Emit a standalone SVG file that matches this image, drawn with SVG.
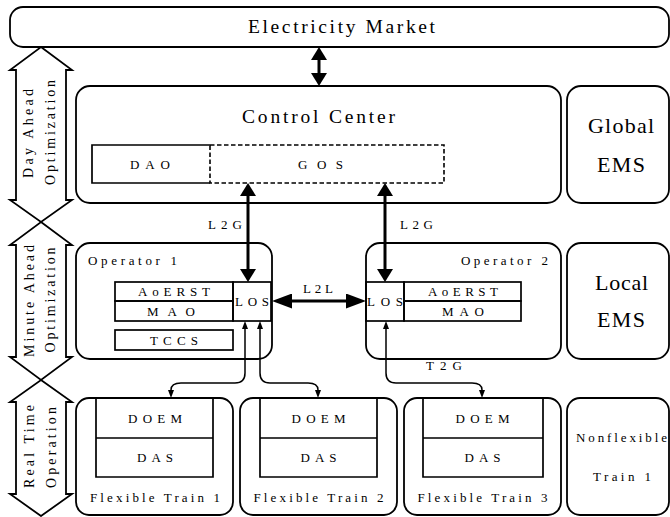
<svg xmlns="http://www.w3.org/2000/svg" width="670" height="517" viewBox="0 0 670 517">
<defs>
<style>
.box{fill:#fff;stroke:#000;stroke-width:1.8}
.ln{fill:none;stroke:#000;stroke-width:1.7}
.dash{fill:none;stroke:#000;stroke-width:1.6;stroke-dasharray:4.5 2.5}
.big{fill:#fff;stroke:#000;stroke-width:1.8;stroke-linejoin:miter}
.thick{fill:none;stroke:#000;stroke-width:3}
.thin{fill:none;stroke:#000;stroke-width:1.5}
text{font-family:"Liberation Serif","Times New Roman",serif;fill:#000}
.s{font-size:13px}
.m{font-size:14px}
.l{font-size:19.5px}
.xl{font-size:22px}
.c{text-anchor:middle}
</style>
<marker id="hT" markerUnits="userSpaceOnUse" viewBox="0 0 13 16" markerWidth="13" markerHeight="16" refX="0" refY="8" orient="auto-start-reverse"><path d="M0,0 L13,8 L0,16 Z" fill="#000"/></marker>
<marker id="hL" markerUnits="userSpaceOnUse" viewBox="0 0 20 15" markerWidth="20" markerHeight="15" refX="0" refY="7.5" orient="auto-start-reverse"><path d="M0,0 L20,7.5 L0,15 Z" fill="#000"/></marker>
<marker id="hs" markerUnits="userSpaceOnUse" viewBox="0 0 8 6" markerWidth="8" markerHeight="6" refX="0" refY="3" orient="auto-start-reverse"><path d="M0,0 L8,3 L0,6 Z" fill="#000"/></marker>
</defs>
<rect width="670" height="517" fill="#fff"/>

<g id="phase-arrows">
<polygon class="big" points="41,47 72,70 66,70 66,200 72,200 41,222 10,200 16,200 16,70 10,70"/>
<polygon class="big" points="41,222 72,245 66,245 66,357 72,357 41,380 10,357 16,357 16,245 10,245"/>
<polygon class="big" points="41,380 72,402 66,402 66,494 72,494 41,516 10,494 16,494 16,402 10,402"/>
<text class="m c" transform="translate(33,133.5) rotate(-90)" textLength="89" lengthAdjust="spacing">Day Ahead</text>
<text class="m c" transform="translate(55,132.5) rotate(-90)" textLength="105" lengthAdjust="spacing">Optimization</text>
<text class="m c" transform="translate(34,301) rotate(-90)" textLength="112" lengthAdjust="spacing">Minute Ahead</text>
<text class="m c" transform="translate(55,300) rotate(-90)" textLength="105" lengthAdjust="spacing">Optimization</text>
<text class="m c" transform="translate(34,446.5) rotate(-90)" textLength="83" lengthAdjust="spacing">Real Time</text>
<text class="m c" transform="translate(56,447.5) rotate(-90)" textLength="81" lengthAdjust="spacing">Operation</text>
</g>

<g id="market">
<rect class="box" x="10" y="7" width="659" height="40" rx="13"/>
<text class="l c" x="341.5" y="33" textLength="187" lengthAdjust="spacing">Electricity Market</text>
</g>

<g id="control-center">
<rect class="box" x="76" y="86" width="485" height="117" rx="14"/>
<text class="l c" x="318.5" y="123" textLength="153" lengthAdjust="spacing">Control Center</text>
<path class="ln" d="M210,145 H92 V183 H210"/>
<rect class="dash" x="210" y="145" width="234" height="38"/>
<text class="s c" x="150" y="169" textLength="40" lengthAdjust="spacing">DAO</text>
<text class="s c" x="320.5" y="169" textLength="45" lengthAdjust="spacing">GOS</text>
</g>

<g id="global-ems">
<rect class="box" x="567" y="86" width="102" height="117" rx="14"/>
<text class="xl c" x="621" y="133" textLength="66" lengthAdjust="spacing">Global</text>
<text class="xl c" x="621" y="172" textLength="48" lengthAdjust="spacing">EMS</text>
</g>

<g id="operator-1">
<rect class="box" x="76" y="243" width="196" height="116" rx="14"/>
<text class="s" x="88" y="265" textLength="89" lengthAdjust="spacing">Operator 1</text>
<rect class="ln" x="115" y="282" width="118" height="19"/>
<rect class="ln" x="115" y="301" width="118" height="20"/>
<rect class="ln" x="233" y="282" width="38" height="39"/>
<rect class="ln" x="115" y="330" width="118" height="20"/>
<text class="s c" x="174" y="296" textLength="72" lengthAdjust="spacing">AoERST</text>
<text class="s c" x="171" y="315.5" textLength="48" lengthAdjust="spacing">MAO</text>
<text class="s c" x="252" y="306" textLength="34" lengthAdjust="spacing">LOS</text>
<text class="s c" x="174" y="344.5" textLength="48" lengthAdjust="spacing">TCCS</text>
</g>

<g id="operator-2">
<rect class="box" x="366" y="243" width="195" height="116" rx="14"/>
<text class="s" x="461" y="265" textLength="87" lengthAdjust="spacing">Operator 2</text>
<rect class="ln" x="366" y="282" width="38" height="39"/>
<rect class="ln" x="404" y="282" width="117" height="19"/>
<rect class="ln" x="404" y="301" width="117" height="20"/>
<text class="s c" x="385" y="306" textLength="36" lengthAdjust="spacing">LOS</text>
<text class="s c" x="463" y="296" textLength="70" lengthAdjust="spacing">AoERST</text>
<text class="s c" x="463" y="315.5" textLength="42" lengthAdjust="spacing">MAO</text>
</g>

<g id="local-ems">
<rect class="box" x="567" y="243" width="102" height="116" rx="14"/>
<text class="xl c" x="621.5" y="290" textLength="53" lengthAdjust="spacing">Local</text>
<text class="xl c" x="621" y="327" textLength="48" lengthAdjust="spacing">EMS</text>
</g>

<g id="train-1">
<rect class="box" x="76" y="398" width="157" height="117" rx="13"/>
<path class="ln" d="M96,398 V477 H213 V398 M96,438 H213"/>
<text class="s c" x="155" y="423" textLength="54" lengthAdjust="spacing">DOEM</text>
<text class="s c" x="155" y="462" textLength="36" lengthAdjust="spacing">DAS</text>
<text class="s c" x="155" y="502" textLength="130" lengthAdjust="spacing">Flexible Train 1</text>
</g>

<g id="train-2">
<rect class="box" x="240" y="398" width="157" height="117" rx="13"/>
<path class="ln" d="M260,398 V477 H377 V398 M260,438 H377"/>
<text class="s c" x="318.5" y="423" textLength="54" lengthAdjust="spacing">DOEM</text>
<text class="s c" x="318.5" y="462" textLength="36" lengthAdjust="spacing">DAS</text>
<text class="s c" x="318.5" y="502" textLength="130" lengthAdjust="spacing">Flexible Train 2</text>
</g>

<g id="train-3">
<rect class="box" x="404" y="398" width="157" height="117" rx="13"/>
<path class="ln" d="M423,398 V477 H543 V398 M423,438 H543"/>
<text class="s c" x="482.5" y="423" textLength="54" lengthAdjust="spacing">DOEM</text>
<text class="s c" x="482.5" y="462" textLength="36" lengthAdjust="spacing">DAS</text>
<text class="s c" x="482.5" y="502" textLength="130" lengthAdjust="spacing">Flexible Train 3</text>
</g>

<g id="nonflexible-train">
<rect class="box" x="567" y="398" width="102" height="117" rx="13"/>
<text class="s c" x="621.5" y="442" textLength="91" lengthAdjust="spacing">Nonflexible</text>
<text class="s c" x="622" y="481" textLength="58" lengthAdjust="spacing">Train 1</text>
</g>

<g id="connectors">
<path class="thick" d="M319,60 V73" marker-start="url(#hT)" marker-end="url(#hT)"/>
<path class="thick" d="M248,196 V269" marker-start="url(#hT)" marker-end="url(#hT)"/>
<path class="thick" d="M385,196 V269" marker-start="url(#hT)" marker-end="url(#hT)"/>
<path class="thick" d="M292,301 H346" marker-start="url(#hL)" marker-end="url(#hL)"/>
<text class="s c" x="225" y="229" textLength="34" lengthAdjust="spacing">L2G</text>
<text class="s c" x="416.5" y="229" textLength="33" lengthAdjust="spacing">L2G</text>
<text class="s c" x="318" y="293" textLength="30" lengthAdjust="spacing">L2L</text>
<path class="thin" d="M245,329 V373 Q245,383 235,383 H181 Q171,383 171,390" marker-start="url(#hs)" marker-end="url(#hs)"/>
<path class="thin" d="M260,329 V373 Q260,383 270,383 H308 Q318,383 318,390" marker-start="url(#hs)" marker-end="url(#hs)"/>
<path class="thin" d="M386,329 V373 Q386,383 396,383 H472 Q482,383 482,390" marker-start="url(#hs)" marker-end="url(#hs)"/>
<text class="s c" x="444" y="370" textLength="36" lengthAdjust="spacing">T2G</text>
</g>
</svg>
